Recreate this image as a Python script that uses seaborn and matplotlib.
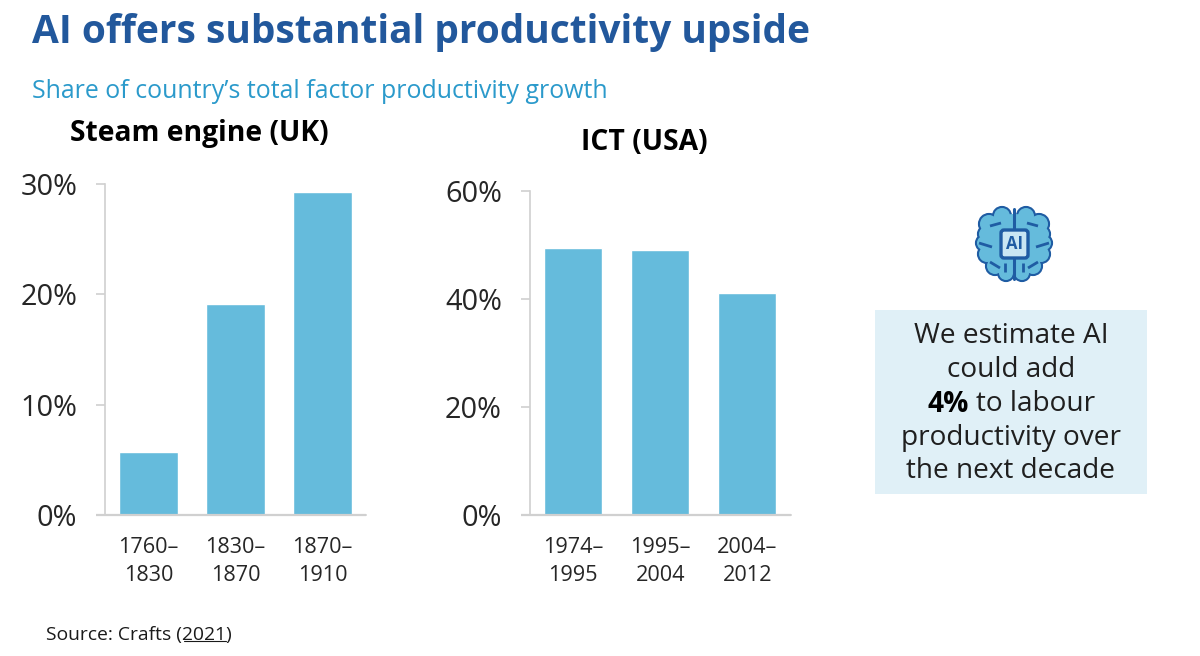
import matplotlib
matplotlib.use("Agg")
import matplotlib.pyplot as plt
from matplotlib.patches import Circle, Ellipse, FancyBboxPatch, PathPatch, Rectangle
from matplotlib.path import Path
import pandas as pd
import seaborn as sns

# Chart data
steam_periods = ["1760–\n1830", "1830–\n1870", "1870–\n1910"]
steam_share = [5.7, 19.1, 29.3]
steam_ticks = [0, 10, 20, 30]
ict_periods = ["1974–\n1995", "1995–\n2004", "2004–\n2012"]
ict_share = [49.5, 49.0, 41.2]
ict_ticks = [0, 20, 40, 60]

BAR = "#65BBDC"
AXIS = "#D0D0D0"
W, H = 1200, 656

sns.set_theme(style="white")
plt.rcParams["font.family"] = ["Open Sans", "DejaVu Sans"]

fig = plt.figure(figsize=(W / 100, H / 100), dpi=100, facecolor="white")


def px_axes(x0, y0, x1, y1, **kw):
    """Axes placed by pixel bounds measured from the top-left corner."""
    return fig.add_axes([x0 / W, 1 - y1 / H, (x1 - x0) / W, (y1 - y0) / H], **kw)


def panel(bounds, periods, share, ticks, title, title_xy):
    ax = px_axes(*bounds)
    frame = pd.DataFrame({"period": periods, "share": share})
    sns.barplot(data=frame, x="period", y="share", color=BAR, saturation=1,
                width=0.667, ax=ax)
    ax.set_xlim(-0.5, 2.5)
    ax.set_ylim(0, ticks[-1])
    ax.set_xlabel("")
    ax.set_ylabel("")
    ax.set_yticks(ticks)
    ax.set_yticklabels([f"{t}%" for t in ticks], fontsize=20.8, color="#262626")
    ax.tick_params(axis="y", length=6.5, width=1.2, color=AXIS, pad=13.5, left=True)
    ax.tick_params(axis="x", length=0, pad=16, labelsize=15.6, labelcolor="#262626")
    for label in ax.get_xticklabels():
        label.set_linespacing(1.42)
    sns.despine(ax=ax)
    for side in ("left", "bottom"):
        ax.spines[side].set_color(AXIS)
        ax.spines[side].set_linewidth(1.2)
    # The baseline reaches past the value axis, up to the outer tick
    ax.plot([-9 / ((bounds[2] - bounds[0]) / 3) - 0.5, 2.5], [0, 0], color=AXIS,
            lw=1.6, clip_on=False, solid_capstyle="butt", zorder=5,
            transform=ax.transData)
    fig.text(title_xy[0] / W, 1 - title_xy[1] / H, title, ha="center", va="center",
             fontsize=20.3, fontweight="bold", color="black")
    return ax


panel((105, 184, 366, 515), steam_periods, steam_share, steam_ticks,
      "Steam engine (UK)", (199, 133))
panel((529.8, 191, 790.8, 515), ict_periods, ict_share, ict_ticks,
      "ICT (USA)", (644, 143))

# Headline block
fig.text(32 / W, 1 - 33 / H, "AI offers substantial productivity upside",
         fontsize=28, fontweight="bold", color="#22589C", va="center")
fig.text(32 / W, 1 - 91 / H, "Share of country’s total factor productivity growth",
         fontsize=17.9, color="#2B9ACB", va="center")

# Source line with the linked year underlined
fig.text(46 / W, 1 - 635 / H, "Source: Crafts (2021)", fontsize=13.9,
         color="#1A1A1A", va="center")
fig.add_artist(plt.Line2D([184 / W, 226 / W], [1 - 640.5 / H] * 2, color="#1A1A1A", lw=0.8))

# Callout box
over = px_axes(0, 0, W, H, zorder=10)
over.set_xlim(0, W)
over.set_ylim(H, 0)
over.axis("off")
over.patch.set_alpha(0)
over.add_patch(Rectangle((875, 310), 272, 184, facecolor="#E0F0F7", edgecolor="none"))
call_y = [336, 370, 404, 437.5, 471.5]
call_lines = ["We estimate AI", "could add", None, "productivity over", "the next decade"]
for y, line in zip(call_y, call_lines):
    if line:
        over.text(1011, y, line, fontsize=20.2, ha="center", va="center", color="#1F1F1F")
over.text(927, call_y[2], "4%", fontsize=20.2, fontweight="bold", ha="left", va="center", color="black")
over.text(976, call_y[2], "to labour", fontsize=20.2, ha="left", va="center", color="#1F1F1F")

# Brain icon: lobes, fold lines and the central AI chip
DARK = "#1F5CA3"
lobes = [(1002, 216, 8), (1026, 216, 8), (989, 224, 9), (1039, 224, 9),
         (984, 243, 7), (1044, 243, 7), (986, 234, 7), (1042, 234, 7),
         (987, 254, 8), (1041, 254, 8), (995, 266, 8), (1033, 266, 8),
         (1006, 273, 7), (1022, 273, 7)]
for x, y, r in lobes:
    over.add_patch(Circle((x, y), r, facecolor=DARK, edgecolor=DARK, lw=3, zorder=2))
for x, y, r in lobes:
    over.add_patch(Circle((x, y), r, facecolor=BAR, edgecolor="none", zorder=3))
over.add_patch(Ellipse((1014, 244), 58, 60, facecolor=BAR, edgecolor="none", zorder=3))
over.plot([1014, 1014], [209, 279], color=DARK, lw=2.2, zorder=4)
folds = [[(990, 226), (1001, 223)], [(1038, 226), (1027, 223)],
         [(979, 243), (992, 247)], [(1049, 243), (1036, 247)],
         [(990, 262), (1000, 268)], [(1038, 262), (1028, 268)],
         [(1005, 263), (1005, 272)], [(1023, 263), (1023, 272)]]
for seg in folds:
    over.add_patch(PathPatch(Path(seg), edgecolor=DARK, lw=2, fill=False, zorder=4))
over.add_patch(FancyBboxPatch((1001, 230), 27, 28, boxstyle="round,pad=0,rounding_size=3",
                              facecolor="#C9E6F3", edgecolor=DARK, lw=2.4, zorder=5))
over.text(1014.5, 244, "AI", fontsize=12, fontweight="bold", color=DARK, ha="center",
          va="center", zorder=6)

fig.savefig("out.png", dpi=100, facecolor="white")
